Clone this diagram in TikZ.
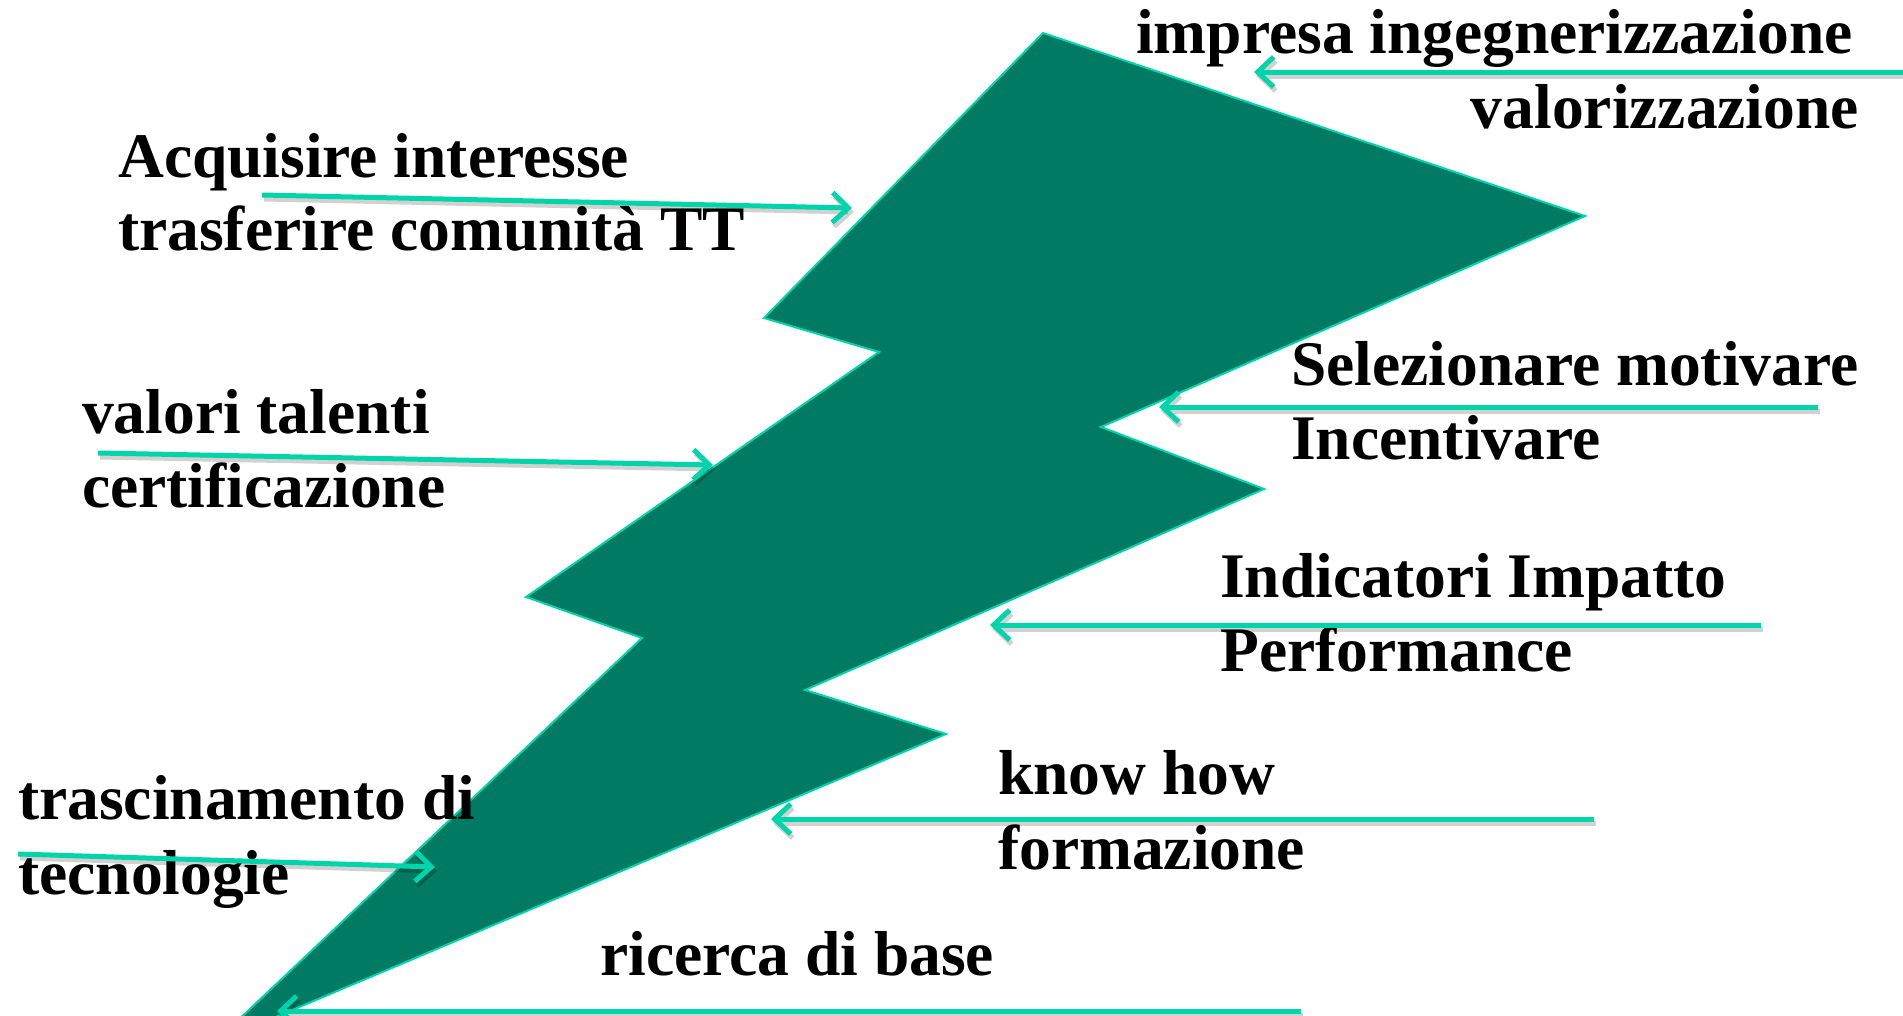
\documentclass[tikz,border=0pt]{standalone}
\usepackage{fontspec}
\setmainfont{Liberation Serif}
\usetikzlibrary{arrows.meta}
\definecolor{boltfill}{RGB}{0,122,98}
\definecolor{boltedge}{RGB}{0,212,170}
\definecolor{arrowcol}{RGB}{0,212,170}
\begin{document}
\begin{tikzpicture}[x=1pt,y=-1pt,
  lbl/.style={anchor=base west, inner sep=0pt, font=\fontsize{63.5}{75}\selectfont\bfseries},
  lblr/.style={lbl, anchor=base east},
  link/.style={draw=arrowcol, line width=5pt, -{Straight Barb[length=16pt,width=30pt]}},
  linkshadow/.style={draw=black, opacity=0.18, line width=5pt, -{Straight Barb[length=16pt,width=30pt]}, transform canvas={xshift=2pt,yshift=-4pt}}
]
\useasboundingbox[fill=white] (0,0) rectangle (1903,1015);

% lightning bolt
\begin{scope}
  \clip (0,0) rectangle (1903,1015);
  \draw[fill=boltfill, draw=boltedge, line width=2pt, line join=miter]
    (1043,33) -- (1585,216) -- (1101,427) -- (1264,489) -- (805,690) -- (946,734)
    -- (214,1043) -- (642,638) -- (526,597) -- (879,352) -- (764,318) -- cycle;
\end{scope}

% labels
\node[lbl]  (t1a) at (1136,53)  {impresa ingegnerizzazione};
\node[lblr] (t1b) at (1859,128) {valorizzazione};
\node[lbl]  (t2a) at (118,177)  {Acquisire interesse};
\node[lbl]  (t2b) at (118,250)  {trasferire comunità TT};
\node[lbl]  (t3a) at (82,433)   {valori talenti};
\node[lbl]  (t3b) at (82,507)   {certificazione};
\node[lbl]  (t4a) at (1291,385) {Selezionare motivare};
\node[lbl]  (t4b) at (1291,459) {Incentivare};
\node[lbl]  (t5a) at (1220,597) {Indicatori Impatto};
\node[lbl]  (t5b) at (1220,671) {Performance};
\node[lbl]  (t6a) at (998,794)  {know how};
\node[lbl]  (t6b) at (998,869)  {formazione};
\node[lbl]  (t7a) at (18,819)   {trascinamento di};
\node[lbl]  (t7b) at (18,894)   {tecnologie};
\node[lbl]  (t8)  at (600,975)  {ricerca di base};

% arrow end points
\coordinate (a1s) at (1903,72);  \coordinate (a1e) at (1254,72);
\coordinate (a2s) at (262,195);  \coordinate (a2e) at (852,208);
\coordinate (a3s) at (98,453);   \coordinate (a3e) at (713,465);
\coordinate (a4s) at (1818,407); \coordinate (a4e) at (1159,407);
\coordinate (a5s) at (1761,625); \coordinate (a5e) at (990,625);
\coordinate (a6s) at (1594,819); \coordinate (a6e) at (771,819);
\coordinate (a7s) at (18,854);   \coordinate (a7e) at (435,867);
\coordinate (a8s) at (1301,1011);\coordinate (a8e) at (277,1011);

% shadows
\foreach \i in {1,...,8} {
  \draw[linkshadow] (a\i s) -- (a\i e);
}
% arrows
\foreach \i in {1,...,8} {
  \draw[link] (a\i s) -- (a\i e);
}
\end{tikzpicture}
\end{document}
